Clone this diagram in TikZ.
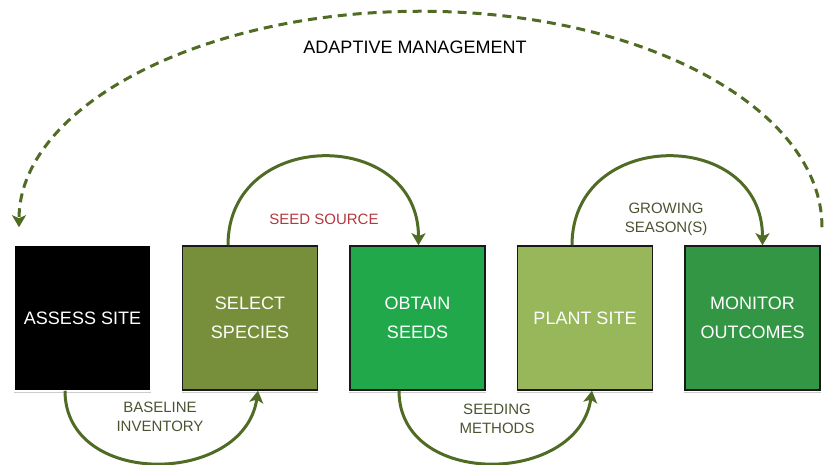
\documentclass[tikz,border=0pt]{standalone}
\usepackage{fontspec}
\setmainfont{Liberation Sans}
\usetikzlibrary{arrows.meta,positioning}

\definecolor{selectgreen}{HTML}{778F3A}
\definecolor{obtaingreen}{HTML}{21A84A}
\definecolor{plantgreen}{HTML}{98B65A}
\definecolor{monitorgreen}{HTML}{339645}
\definecolor{arrowgreen}{HTML}{4F6B24}
\definecolor{notegreen}{HTML}{4A5432}
\definecolor{notered}{HTML}{B5383F}

\begin{document}
\begin{tikzpicture}[x=1pt, y=1pt, >={Stealth[length=12pt,width=14pt,inset=3pt]},
   node distance=167.5pt, on grid,
   stage/.style={draw=black!90, line width=1.5pt, minimum width=135pt, minimum height=144pt,
     inner sep=0pt, text=white, align=center, font=\fontsize{18}{29}\selectfont},
   note/.style={text=notegreen, align=center, font=\fontsize{15}{19}\selectfont},
   flow/.style={->, draw=arrowgreen, line width=3pt}]
   \useasboundingbox (0,0) rectangle (832,465);

   \node[stage, fill=black, draw=none] (assess)              at (82.5,147) {ASSESS SITE};
   \node[stage, fill=selectgreen]      (select)  [right=of assess]  {SELECT\\SPECIES};
   \node[stage, fill=obtaingreen]      (obtain)  [right=of select]  {OBTAIN\\SEEDS};
   \node[stage, fill=plantgreen]       (plant)   [right=of obtain]  {PLANT SITE};
   \node[stage, fill=monitorgreen]     (monitor) [right=of plant]   {MONITOR\\OUTCOMES};

   % faint line under each box
   \foreach \n in {assess,select,obtain,plant,monitor}
      \draw[black!20, line width=0.8pt] ([yshift=-2pt]\n.south west) -- ([yshift=-2pt]\n.south east);

   % loops between the steps
   \draw[flow] ([xshift=-17.5pt]assess.south) .. controls +(0,-98) and +(-14,-95) .. ([xshift=8pt]select.south);
   \draw[flow] ([xshift=-22pt]select.north) .. controls +(0,118) and +(0,118) .. ([xshift=1pt]obtain.north);
   \draw[flow] ([xshift=-18.5pt]obtain.south) .. controls +(0,-98) and +(-14,-95) .. ([xshift=7pt]plant.south);
   \draw[flow] ([xshift=-13pt]plant.north) .. controls +(0,118) and +(0,118) .. ([xshift=10pt]monitor.north);

   \draw[flow, dash pattern=on 9pt off 6pt] ([xshift=69.5pt, yshift=18pt]monitor.north)
      arc[start angle=0, end angle=180, x radius=401.5, y radius=216];

   \node[note] (baseline) at (160,48.5)  {BASELINE\\INVENTORY};
   \node[note, text=notered] (source) at (324,246) {SEED SOURCE};
   \node[note] (seeding)  at (497,46.5)  {SEEDING\\METHODS};
   \node[note] (growing)  at (666,245.5) {GROWING\\SEASON(S)};
   \node[font=\fontsize{18}{22}\selectfont] (adaptive) at (415,418) {ADAPTIVE MANAGEMENT};
\end{tikzpicture}
\end{document}
